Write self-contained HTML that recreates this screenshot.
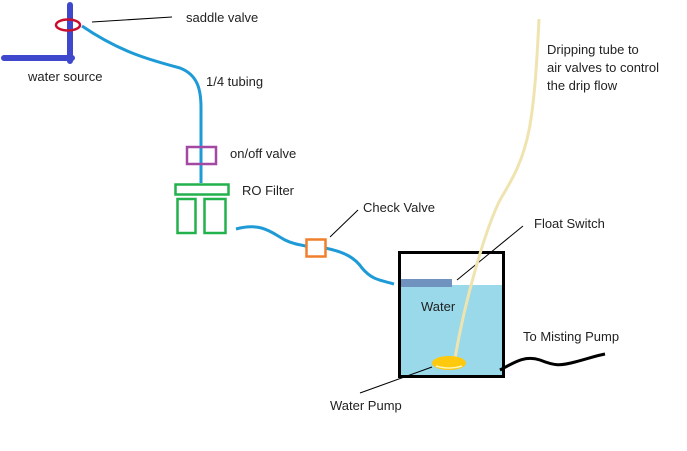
<!DOCTYPE html>
<html><head><meta charset="utf-8"><style>
html,body{margin:0;padding:0;background:#fff;}
svg{display:block;}
text{font-family:"Liberation Sans",sans-serif;font-size:13px;fill:#222;}
</style></head><body>
<svg width="687" height="451" viewBox="0 0 687 451">
<rect width="687" height="451" fill="#fff"/>
<path d="M70 5 V61 M4 58 H72" stroke="#3f48cc" stroke-width="6" stroke-linecap="round" fill="none"/>
<ellipse cx="68" cy="25" rx="12" ry="5.5" fill="none" stroke="#c8102e" stroke-width="2.5"/>
<line x1="92" y1="22" x2="172" y2="17" stroke="#000" stroke-width="1"/>
<text x="186" y="22">saddle valve</text>
<text x="28" y="81">water source</text>
<path d="M82 26 C120 52 150 60 180 68 C198 75 201 90 201 108 V183" stroke="#1e9bd7" stroke-width="3" fill="none"/>
<text x="206" y="86">1/4 tubing</text>
<rect x="187" y="147" width="29" height="17" fill="none" stroke="#a349a4" stroke-width="2.5"/>
<text x="230" y="158">on/off valve</text>
<rect x="175.5" y="184.5" width="53" height="10" fill="none" stroke="#22b14c" stroke-width="2.5"/>
<rect x="177.5" y="199" width="18" height="34" fill="none" stroke="#22b14c" stroke-width="2.5"/>
<rect x="204.5" y="199" width="21" height="34" fill="none" stroke="#22b14c" stroke-width="2.5"/>
<text x="242" y="195">RO Filter</text>
<path d="M236 229 C262 222 272 233 285 240 C293 244 300 245 306 246 M325 248 C345 252 355 258 362 268 C372 280 380 280 394 284" stroke="#1e9bd7" stroke-width="3" fill="none"/>
<rect x="306.5" y="239.5" width="19" height="17" fill="none" stroke="#f07f2b" stroke-width="2.5"/>
<line x1="330" y1="237" x2="358" y2="210" stroke="#000" stroke-width="1"/>
<text x="363" y="212">Check Valve</text>
<rect x="400" y="287" width="102" height="89" fill="#99d9ea"/>
<rect x="399" y="285" width="105" height="5" rx="2.5" fill="#99d9ea"/>
<rect x="401" y="279" width="51" height="8" fill="#7092be"/>
<rect x="399.5" y="252.5" width="104" height="124" fill="none" stroke="#000" stroke-width="3"/>
<text x="421" y="311">Water</text>
<line x1="457" y1="280" x2="523" y2="226" stroke="#000" stroke-width="1"/>
<text x="534" y="228">Float Switch</text>
<path d="M539 19 C537 60 535 95 530 125 C524 160 512 180 500 200 C485 230 465 300 455 358" stroke="#efe4b0" stroke-width="3" fill="none"/>
<text x="547" y="54">Dripping tube to</text>
<text x="547" y="72">air valves to control</text>
<text x="547" y="90">the drip flow</text>
<ellipse cx="449" cy="363" rx="17" ry="7" fill="#ffc90e"/>
<path d="M436 366 Q449 370 462 366" stroke="#fff4b0" stroke-width="1.5" fill="none"/>
<line x1="360" y1="393" x2="432" y2="367" stroke="#000" stroke-width="1"/>
<text x="330" y="410">Water Pump</text>
<path d="M500 370 C515 362 525 355 540 360 C555 366 560 366 575 362 C590 358 595 356 605 354" stroke="#000" stroke-width="3" fill="none"/>
<text x="523" y="341">To Misting Pump</text>
</svg>
</body></html>
